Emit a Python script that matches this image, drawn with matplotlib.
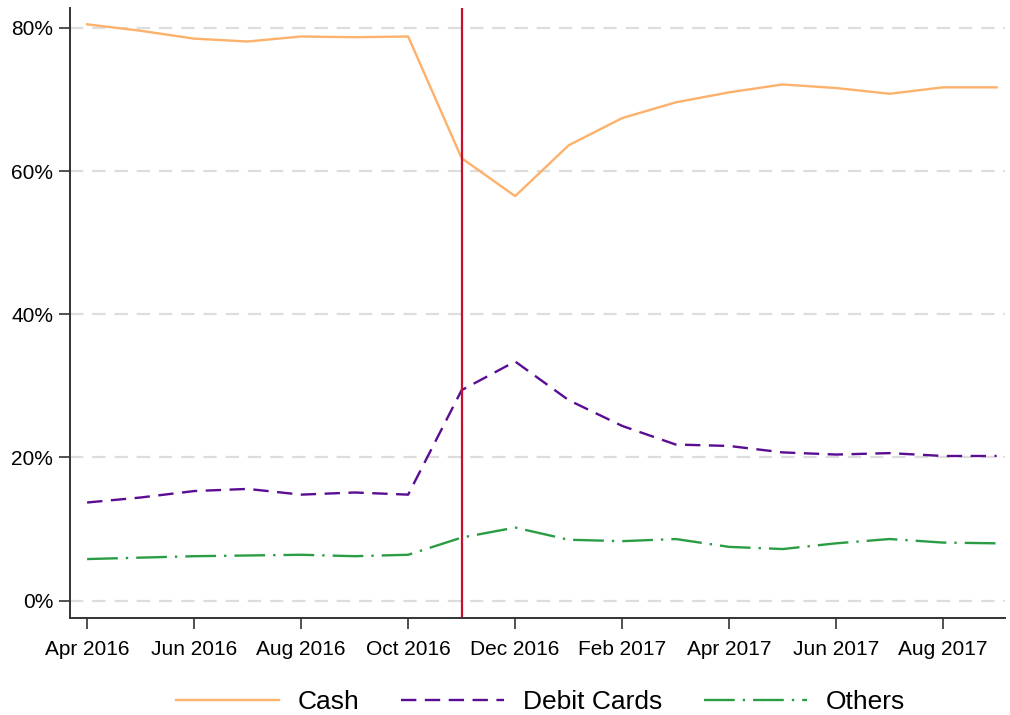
import matplotlib.pyplot as plt
import numpy as np

# Monthly shares of payment methods, Apr 2016 - Sep 2017
months = ['Apr 2016', 'May 2016', 'Jun 2016', 'Jul 2016', 'Aug 2016', 'Sep 2016',
          'Oct 2016', 'Nov 2016', 'Dec 2016', 'Jan 2017', 'Feb 2017', 'Mar 2017',
          'Apr 2017', 'May 2017', 'Jun 2017', 'Jul 2017', 'Aug 2017', 'Sep 2017']
cash = [80.5, 79.6, 78.5, 78.1, 78.8, 78.7, 78.8, 61.8, 56.5, 63.6, 67.4, 69.6,
        71.0, 72.1, 71.6, 70.8, 71.7, 71.7]
debit = [13.7, 14.4, 15.3, 15.6, 14.8, 15.1, 14.8, 29.4, 33.4, 28.0, 24.4, 21.8,
         21.6, 20.7, 20.4, 20.6, 20.2, 20.2]
others = [5.8, 6.0, 6.2, 6.3, 6.4, 6.2, 6.4, 8.8, 10.2, 8.5, 8.3, 8.6,
          7.5, 7.2, 8.0, 8.6, 8.1, 8.0]
event_month = 'Nov 2016'

plt.rcParams['font.family'] = ['Liberation Sans', 'DejaVu Sans']

x = np.arange(len(months))

fig = plt.figure(figsize=(10.1, 7.15), dpi=100)
ax = fig.add_axes([0.0693, 0.136, 0.926, 0.853])

ax.plot(x, cash, color='#FDB16B', lw=1.7, label='Cash')
ax.plot(x, debit, color='#5A0C92', lw=1.7, dashes=(6.5, 3.6), label='Debit Cards')
ax.plot(x, others, color='#2A9D44', lw=1.7, dashes=(13, 3.4, 1, 3.4), label='Others')
ax.axvline(months.index(event_month), color='#C8102E', lw=1.6)

ax.set_xlim(-0.32, 17.16)
ax.set_ylim(-2.4, 82.8)
ax.set_yticks([0, 20, 40, 60, 80])
ax.set_yticklabels(['0%', '20%', '40%', '60%', '80%'])
ax.set_xticks(x[::2])
ax.set_xticklabels(months[::2])
ax.tick_params(axis='both', labelsize=15, length=8, width=1.2, color='#333333')
ax.tick_params(axis='x', pad=8)
ax.tick_params(axis='y', pad=4)

ax.grid(axis='y', color='#DDDDDD', lw=1.6, dashes=(6, 4))
ax.set_axisbelow(True)
for s in ['top', 'right']:
    ax.spines[s].set_visible(False)
for s in ['left', 'bottom']:
    ax.spines[s].set_linewidth(1.4)
    ax.spines[s].set_color('#333333')

fig.legend(loc='center', bbox_to_anchor=(0.535, 0.018), ncol=3, frameon=False,
           fontsize=19, handlelength=3.9, columnspacing=1.6, handletextpad=0.7)

fig.savefig('out.png', dpi=100)
